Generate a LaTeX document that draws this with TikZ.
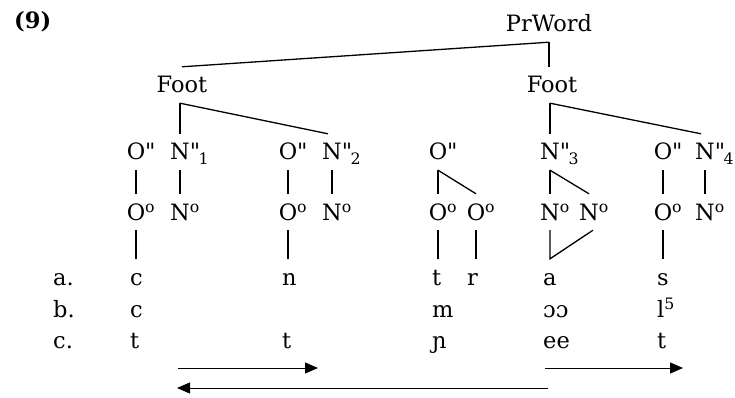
\documentclass[tikz,border=0pt]{standalone}
\usepackage{fontspec}
\setmainfont{DejaVu Serif}[Ligatures=TeXOff]
\usetikzlibrary{arrows.meta}
\newcommand{\dq}[1]{\rlap{"\kern-1.5pt\textsubscript{#1}}}
\begin{document}
\begin{tikzpicture}[x=1pt,y=-1pt,
  every node/.style={font=\fontsize{22.5}{26}\selectfont},
  lbl/.style={anchor=base,inner xsep=0pt,inner ysep=10pt,text height=16pt,text depth=0pt},
  seg/.style={anchor=base west,inner xsep=0pt,inner ysep=10pt,text height=16pt,text depth=0pt},
  br/.style={line width=1.3pt},
  arr/.style={line width=1pt,-{Triangle[length=13pt,width=11pt]}}]
\useasboundingbox (0,0) rectangle (735,398);
% top
\node[seg] (num) at (14,29) {\bfseries(9)};
\node[lbl] (pw) at (549,32) {PrWord};
\node[lbl] (fl) at (182,93) {Foot};
\node[lbl] (fr) at (552,93) {Foot};
% row 1
\node[lbl] (O1) at (136,160) {O\rlap{"}};
\node[lbl] (N1) at (180,160) {N\dq{1}};
\node[lbl] (O2) at (288,160) {O\rlap{"}};
\node[lbl] (N2) at (332,160) {N\dq{2}};
\node[lbl] (O3) at (438,160) {O\rlap{"}};
\node[lbl] (N3) at (550,160) {N\dq{3}};
\node[lbl] (O4) at (663,160) {O\rlap{"}};
\node[lbl] (N4) at (705,160) {N\dq{4}};
% row 2
\node[lbl] (Oo1) at (136,220) {O\rlap{\textsuperscript{o}}};
\node[lbl] (No1) at (180,220) {N\rlap{\textsuperscript{o}}};
\node[lbl] (Oo2) at (288,220) {O\rlap{\textsuperscript{o}}};
\node[lbl] (No2) at (332,220) {N\rlap{\textsuperscript{o}}};
\node[lbl] (Ooa) at (438,220) {O\rlap{\textsuperscript{o}}};
\node[lbl] (Oob) at (476,220) {O\rlap{\textsuperscript{o}}};
\node[lbl] (Noa) at (550,220) {N\rlap{\textsuperscript{o}}};
\node[lbl] (Nob) at (589,220) {N\rlap{\textsuperscript{o}}};
\node[lbl] (Oo4) at (663,220) {O\rlap{\textsuperscript{o}}};
\node[lbl] (No4) at (705,220) {N\rlap{\textsuperscript{o}}};
% row labels
\node[seg] (la) at (53,285) {a.};
\node[seg] (lb) at (53,317) {b.};
\node[seg] (lc) at (53,348) {c.};
% row a
\node[seg] (a1) at (130,285) {c};
\node[seg] (a2) at (282,285) {n};
\node[seg] (a3) at (432,285) {t};
\node[seg] (a4) at (467,285) {r};
\node[seg] (a5) at (543,285) {a};
\node[seg] (a6) at (657,285) {s};
% row b
\node[seg] (b1) at (130,317) {c};
\node[seg] (b3) at (432,317) {m};
\node[seg] (b5) at (543,317) {ɔɔ};
\node[seg] (b6) at (657,317) {l\textsuperscript{5}};
% row c
\node[seg] (c1) at (130,348) {t};
\node[seg] (c2) at (282,348) {t};
\node[seg] (c3) at (432,348) {ɲ};
\node[seg] (c5) at (543,348) {ee};
\node[seg] (c6) at (657,348) {t};
% branches
\draw[br] (pw.south) -- (fl.north);
\draw[br] (pw.south) -- (pw.south |- fr.north);
\draw[br] (N1.north |- fl.south) -- (N1.north);
\draw[br] (N1.north |- fl.south) -- ([xshift=-4pt]N2.north);
\draw[br] (N3.north |- fr.south) -- (N3.north);
\draw[br] (N3.north |- fr.south) -- ([xshift=-4pt]N4.north);
\draw[br] (O1.south) -- (Oo1.north);
\draw[br] (N1.south) -- (No1.north);
\draw[br] (O2.south) -- (Oo2.north);
\draw[br] (N2.south) -- (No2.north);
\draw[br] (O3.south) -- (Ooa.north);
\draw[br] (O3.south) -- (Oob.north);
\draw[br] (N3.south) -- (Noa.north);
\draw[br] (N3.south) -- (Nob.north);
\draw[br] (O4.south) -- (Oo4.north);
\draw[br] (N4.south) -- (No4.north);
\draw[br] (Oo1.south) -- (Oo1.south |- a1.north);
\draw[br] (Oo2.south) -- (Oo2.south |- a2.north);
\draw[br] (Ooa.south) -- (Ooa.south |- a3.north);
\draw[br] (Oob.south) -- (Oob.south |- a4.north);
\draw[br] (Noa.south) -- (Noa.south |- a5.north) -- ([xshift=4pt]Nob.south);
\draw[br] (Oo4.south) -- (Oo4.south |- a6.north);
% arrows
\coordinate (p1) at (178,368);
\coordinate (p2) at (318,368);
\coordinate (p3) at (548,388);
\coordinate (p4) at (177,388);
\coordinate (p5) at (545,368);
\coordinate (p6) at (683,368);
\draw[arr] (p1) -- (p2);
\draw[arr] (p3) -- (p4);
\draw[arr] (p5) -- (p6);
\end{tikzpicture}
\end{document}
